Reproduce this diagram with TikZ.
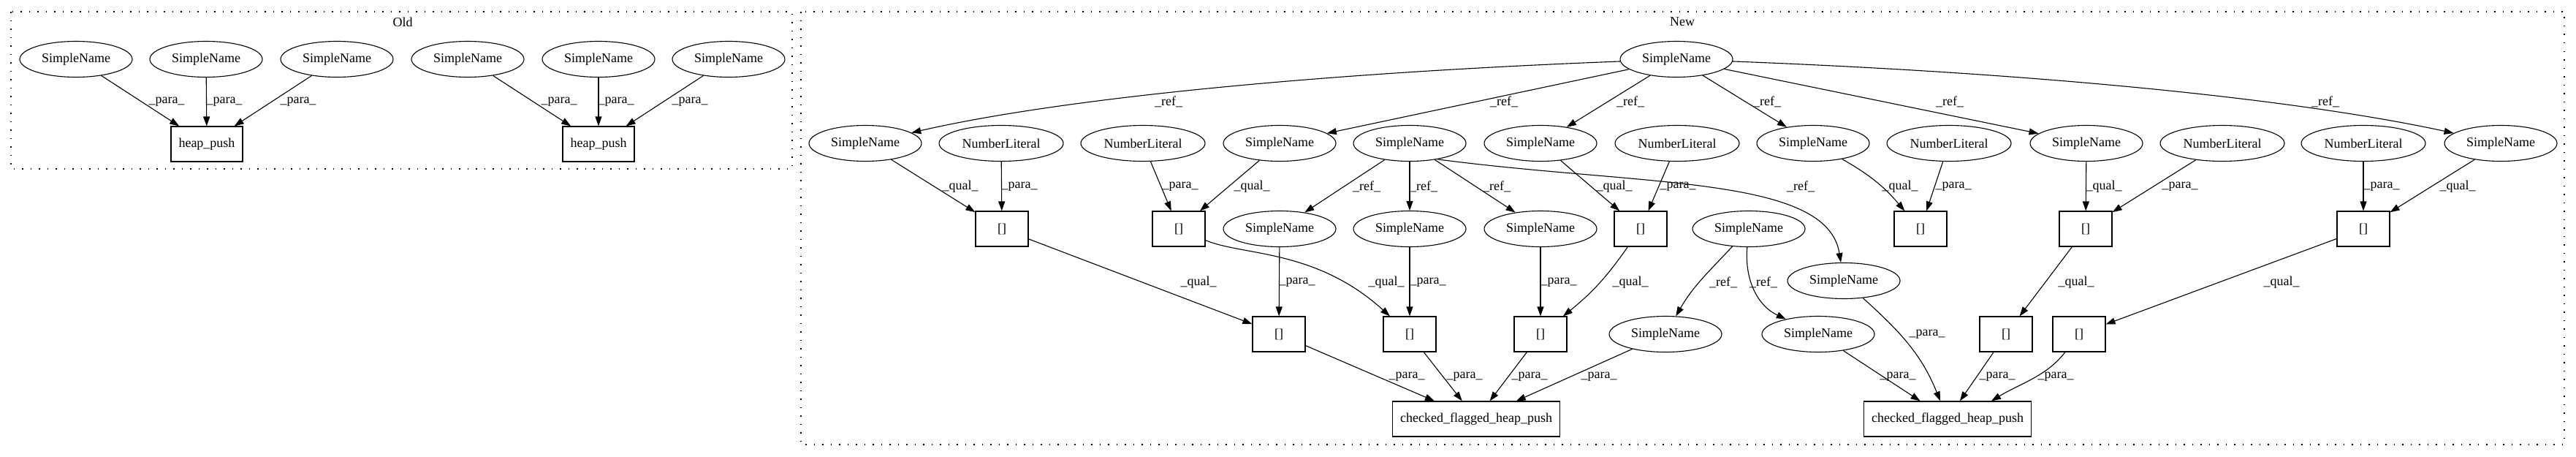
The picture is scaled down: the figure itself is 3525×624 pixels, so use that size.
\documentclass[tikz,border=0pt]{standalone}
\usepackage{fontspec}
\setmainfont{Liberation Serif}
\usetikzlibrary{shapes.geometric,arrows.meta}
\begin{document}
\begin{tikzpicture}[x=1pt,y=-1pt,
  every node/.style={font=\fontsize{18}{21}\selectfont},
  sn/.style={ellipse, draw, line width=1.1pt, minimum width=154pt, minimum height=49pt, inner sep=0pt},
  nl/.style={sn, minimum width=170pt},
  bx/.style={rectangle, draw, line width=1.1pt, minimum width=72pt, minimum height=48pt, inner sep=0pt},
  arr/.style={line width=1.1pt, -{Triangle[length=13pt,width=9pt]}},
  lbl/.style={inner sep=0pt},
  clus/.style={line width=1.2pt, dash pattern=on 1.5pt off 10pt}
]
\useasboundingbox (0,0) rectangle (3525,624);
% clusters
\draw[clus] (15,16) rectangle (1084,231);
\draw[clus] (1096,16) rectangle (3509,608);
\node[lbl] (oldt) at (551,30) {Old};
\node[lbl] (newt) at (2302,30) {New};

% ---------- Old ----------
\node[sn] (o1) at (104,81) {SimpleName};
\node[sn] (o2) at (282,81) {SimpleName};
\node[sn] (o3) at (461,81) {SimpleName};
\node[sn] (o4) at (640,81) {SimpleName};
\node[sn] (o5) at (819,81) {SimpleName};
\node[sn] (o6) at (997,81) {SimpleName};
\node[bx, minimum width=98pt] (h1) at (283,197) {heap\_push};
\node[bx, minimum width=98pt] (h2) at (819,197) {heap\_push};
\draw[arr] (o1) -- (h1);
\draw[arr] (o2) -- (h1);
\draw[arr] (o3) -- (h1);
\draw[arr] (o4) -- (h2);
\draw[arr] (o5) -- (h2);
\draw[arr] (o6) -- (h2);
\node[lbl] (lo1) at (228,139) {\_para\_};
\node[lbl] (lo2) at (307,139) {\_para\_};
\node[lbl] (lo3) at (408,139) {\_para\_};
\node[lbl] (lo4) at (765,139) {\_para\_};
\node[lbl] (lo5) at (843,139) {\_para\_};
\node[lbl] (lo6) at (944,139) {\_para\_};

% ---------- New ----------
\node[sn] (T) at (2294,81) {SimpleName};
% row 2
\node[sn] (A) at (1184,196) {SimpleName};
\node[nl] (B) at (1370,196) {NumberLiteral};
\node[nl] (C) at (1564,196) {NumberLiteral};
\node[sn] (D) at (1751,196) {SimpleName};
\node[sn] (E) at (1929,196) {SimpleName};
\node[sn] (M) at (2108,196) {SimpleName};
\node[nl] (N) at (2295,196) {NumberLiteral};
\node[sn] (O) at (2481,196) {SimpleName};
\node[nl] (P) at (2667,196) {NumberLiteral};
\node[sn] (AA) at (2855,196) {SimpleName};
\node[nl] (AB) at (3041,196) {NumberLiteral};
\node[nl] (AC) at (3234,196) {NumberLiteral};
\node[sn] (AD) at (3422,196) {SimpleName};
% row 3
\node[bx] (F) at (1371,313) {[]};
\node[bx] (G) at (1613,313) {[]};
\node[sn] (H) at (1751,313) {SimpleName};
\node[sn] (I) at (1929,313) {SimpleName};
\node[sn] (Q) at (2108,313) {SimpleName};
\node[bx] (R) at (2245,313) {[]};
\node[sn] (S) at (2393,313) {SimpleName};
\node[bx] (U) at (2628,313) {[]};
\node[bx] (AE) at (2854,313) {[]};
\node[bx] (AF) at (3234,313) {[]};
\node[sn] (V) at (2523,384) {SimpleName};
% row 4
\node[bx] (J) at (1750,457) {[]};
\node[bx] (K) at (1929,457) {[]};
\node[bx] (W) at (2108,457) {[]};
\node[sn] (X) at (2279,457) {SimpleName};
\node[sn] (Y) at (2488,457) {SimpleName};
\node[bx] (Z) at (2745,457) {[]};
\node[bx] (AG) at (2845,457) {[]};
% row 5
\node[bx, minimum width=229pt] (L) at (2020,573) {checked\_flagged\_heap\_push};
\node[bx, minimum width=229pt] (L2) at (2665,573) {checked\_flagged\_heap\_push};

% edges from T
\draw[arr] (T) .. controls (1800,100) and (1450,135) .. (A);
\draw[arr] (T) -- (D);
\draw[arr] (T) -- (M);
\draw[arr] (T) -- (O);
\draw[arr] (T) -- (AA);
\draw[arr] (T) .. controls (2790,100) and (3140,135) .. (AD);
% edges from E
\draw[arr] (E) -- (H);
\draw[arr] (E) -- (I);
\draw[arr] (E) -- (Q);
\draw[arr] (E.-30) .. controls (2250,255) and (2500,240) .. (V);
% row 2 -> row 3
\draw[arr] (A) -- (F);
\draw[arr] (B) -- (F);
\draw[arr] (C) -- (G);
\draw[arr] (D) -- (G);
\draw[arr] (M) -- (R);
\draw[arr] (N) -- (R);
\draw[arr] (O) to[bend left=10] (U);
\draw[arr] (P) -- (U);
\draw[arr] (AA) -- (AE);
\draw[arr] (AB) -- (AE);
\draw[arr] (AC) -- (AF);
\draw[arr] (AD) -- (AF);
% row 3 -> row 4
\draw[arr] (F) -- (J);
\draw[arr] (H) -- (J);
\draw[arr] (G) .. controls (1700,350) and (1800,340) .. (K);
\draw[arr] (I) -- (K);
\draw[arr] (Q) -- (W);
\draw[arr] (R) to[bend left=8] (W);
\draw[arr] (S) to[out=-133, in=60] (X);
\draw[arr] (S) to[out=-95, in=155] (Y);
\draw[arr] (AE) -- (Z);
\draw[arr] (AF) -- (AG);
% row 4 -> row 5
\draw[arr] (J) -- (L);
\draw[arr] (K) -- (L);
\draw[arr] (W) -- (L);
\draw[arr] (X) -- (L);
\draw[arr] (V) to[out=-42, in=112] (L2);
\draw[arr] (Y) -- (L2);
\draw[arr] (Z) -- (L2);
\draw[arr] (AG) .. controls (2800,515) and (2765,524) .. ([xshift=60pt]L2.north);

% labels
\node[lbl] (n1) at (1599,139) {\_ref\_};
\node[lbl] (n2) at (2058,139) {\_ref\_};
\node[lbl] (n3) at (2231,139) {\_ref\_};
\node[lbl] (n4) at (2418,139) {\_ref\_};
\node[lbl] (n5) at (2668,139) {\_ref\_};
\node[lbl] (n6) at (3182,139) {\_ref\_};

\node[lbl] (n7) at (1314,255) {\_qual\_};
\node[lbl] (n8) at (1395,255) {\_para\_};
\node[lbl] (n9) at (1615,255) {\_para\_};
\node[lbl] (n10) at (1713,255) {\_qual\_};
\node[lbl] (n11) at (1870,255) {\_ref\_};
\node[lbl] (n12) at (1948,255) {\_ref\_};
\node[lbl] (n13) at (2048,255) {\_ref\_};
\node[lbl] (n14) at (2209,255) {\_qual\_};
\node[lbl] (n15) at (2296,255) {\_para\_};
\node[lbl] (n16) at (2464,255) {\_ref\_};
\node[lbl] (n17) at (2600,255) {\_qual\_};
\node[lbl] (n18) at (2673,255) {\_para\_};
\node[lbl] (n19) at (2879,255) {\_qual\_};
\node[lbl] (n20) at (2983,255) {\_para\_};
\node[lbl] (n21) at (3259,255) {\_para\_};
\node[lbl] (n22) at (3363,255) {\_qual\_};

\node[lbl] (n23) at (1640,386) {\_qual\_};
\node[lbl] (n24) at (1775,386) {\_para\_};
\node[lbl] (n25) at (1897,386) {\_qual\_};
\node[lbl] (n26) at (1954,386) {\_para\_};
\node[lbl] (n27) at (2133,386) {\_para\_};
\node[lbl] (n28) at (2231,386) {\_qual\_};
\node[lbl] (n29) at (2358,386) {\_ref\_};
\node[lbl] (n30) at (2413,386) {\_ref\_};
\node[lbl] (n31) at (2841,386) {\_qual\_};
\node[lbl] (n32) at (3122,386) {\_qual\_};
\node[lbl] (n33) at (2637,457) {\_para\_};

\node[lbl] (n34) at (1925,515) {\_para\_};
\node[lbl] (n35) at (2004,515) {\_para\_};
\node[lbl] (n36) at (2093,515) {\_para\_};
\node[lbl] (n37) at (2188,515) {\_para\_};
\node[lbl] (n38) at (2597,515) {\_para\_};
\node[lbl] (n39) at (2733,515) {\_para\_};
\node[lbl] (n40) at (2813,515) {\_para\_};
\end{tikzpicture}
\end{document}
